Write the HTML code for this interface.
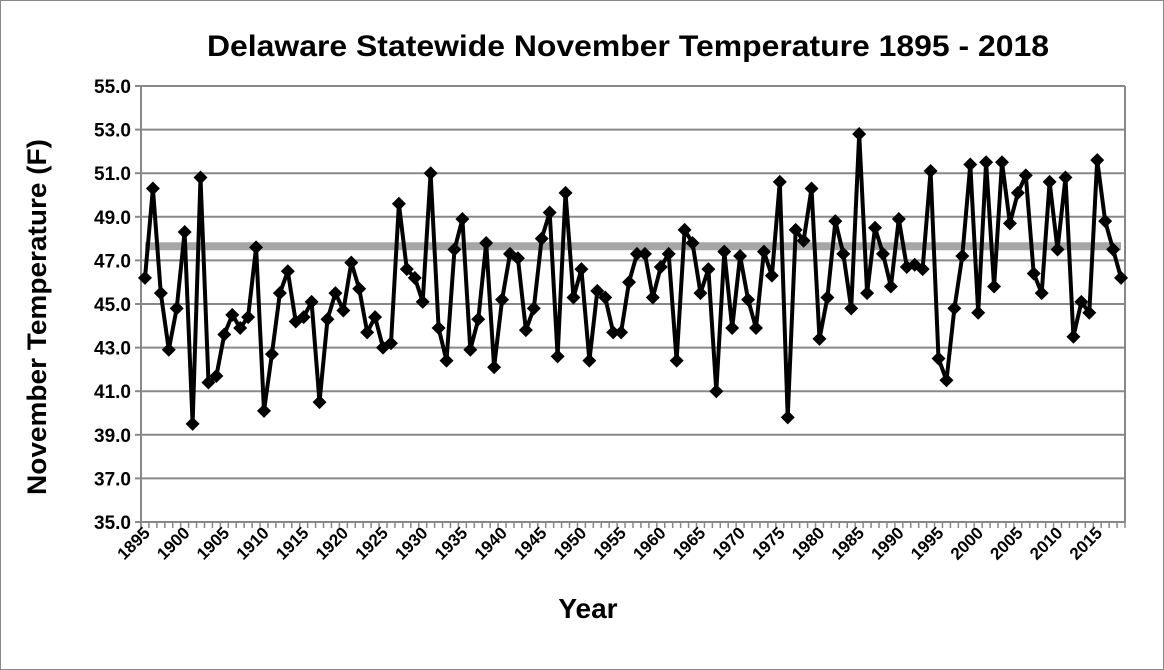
<!DOCTYPE html>
<html><head><meta charset="utf-8"><style>
html,body{margin:0;padding:0;background:#fff;}
svg{display:block;font-family:"Liberation Sans",sans-serif;}
</style></head><body>
<svg id="c" width="1164" height="670" xmlns="http://www.w3.org/2000/svg">
<rect x="0.5" y="0.5" width="1163" height="669" fill="#fff" stroke="#888" stroke-width="1"/>
<text x="628" y="56" text-anchor="middle" font-size="30" font-weight="bold" fill="#000" textLength="842" lengthAdjust="spacingAndGlyphs">Delaware Statewide November Temperature 1895 - 2018</text>
<text x="588" y="618" text-anchor="middle" font-size="28" font-weight="bold" fill="#000">Year</text>
<text transform="translate(46,317) rotate(-90)" text-anchor="middle" font-size="27" font-weight="bold" fill="#000" textLength="356" lengthAdjust="spacingAndGlyphs">November Temperature (F)</text>
<g id="g"></g>
</svg>
<script>
var v=[46.2,50.3,45.5,42.9,44.8,48.3,39.5,50.8,41.4,41.7,43.6,44.5,43.9,44.4,47.6,40.1,42.7,45.5,46.5,44.2,44.4,45.1,40.5,44.3,45.5,44.7,46.9,45.7,43.7,44.4,43.0,43.2,49.6,46.6,46.2,45.1,51.0,43.9,42.4,47.5,48.9,42.9,44.3,47.8,42.1,45.2,47.3,47.1,43.8,44.8,48.0,49.2,42.6,50.1,45.3,46.6,42.4,45.6,45.3,43.7,43.7,46.0,47.3,47.3,45.3,46.7,47.3,42.4,48.4,47.8,45.5,46.6,41.0,47.4,43.9,47.2,45.2,43.9,47.4,46.3,50.6,39.8,48.4,47.9,50.3,43.4,45.3,48.8,47.3,44.8,52.8,45.5,48.5,47.3,45.8,48.9,46.7,46.8,46.6,51.1,42.5,41.5,44.8,47.2,51.4,44.6,51.5,45.8,51.5,48.7,50.1,50.9,46.4,45.5,50.6,47.5,50.8,43.5,45.1,44.6,51.6,48.8,47.5,46.2];
var X0=141,X1=1125,Y0=86,Y1=522;
function y(t){return Y1-(t-35)*(Y1-Y0)/20;}
var step=(X1-X0)/124;
function x(i){return X0+step*(i+0.5);}
var s='';
for(var k=0;k<=10;k++){var t=35+2*k,yy=y(t);
 s+='<line x1="'+X0+'" y1="'+yy+'" x2="'+X1+'" y2="'+yy+'" stroke="#888" stroke-width="2"/>';
 s+='<line x1="'+(X0-6)+'" y1="'+yy+'" x2="'+X0+'" y2="'+yy+'" stroke="#888" stroke-width="2"/>';
 s+='<text x="'+(X0-10)+'" y="'+(yy+7)+'" text-anchor="end" font-size="19" font-weight="bold">'+t.toFixed(1)+'</text>';}
s+='<line x1="'+X0+'" y1="'+Y0+'" x2="'+X0+'" y2="'+(Y1+6)+'" stroke="#888" stroke-width="2"/>';
s+='<line x1="'+X1+'" y1="'+Y0+'" x2="'+X1+'" y2="'+Y1+'" stroke="#888" stroke-width="2"/>';
for(var i=0;i<=124;i++){var xx=X0+step*i;s+='<line x1="'+xx+'" y1="'+Y1+'" x2="'+xx+'" y2="'+(Y1+6)+'" stroke="#888" stroke-width="1.5"/>';}
for(var i=0;i<124;i+=5){var xx=x(i)+6,yy=Y1+12;
 s+='<text transform="translate('+xx+','+yy+') rotate(-45)" text-anchor="end" font-size="17" font-weight="bold">'+(1895+i)+'</text>';}
var my=y(47.65);
s+='<line x1="'+x(0)+'" y1="'+my+'" x2="'+x(123)+'" y2="'+my+'" stroke="#a6a6a6" stroke-width="8"/>';
var p='';for(var i=0;i<124;i++)p+=(i?'L':'M')+x(i).toFixed(1)+','+y(v[i]).toFixed(1);
s+='<path d="'+p+'" fill="none" stroke="#000" stroke-width="4" stroke-linejoin="round"/>';
for(var i=0;i<124;i++){var a=x(i),b=y(v[i]);s+='<path d="M'+a+','+(b-7)+'L'+(a+7)+','+b+'L'+a+','+(b+7)+'L'+(a-7)+','+b+'Z" fill="#000"/>';}
document.getElementById('g').innerHTML=s;
</script>
</body></html>
